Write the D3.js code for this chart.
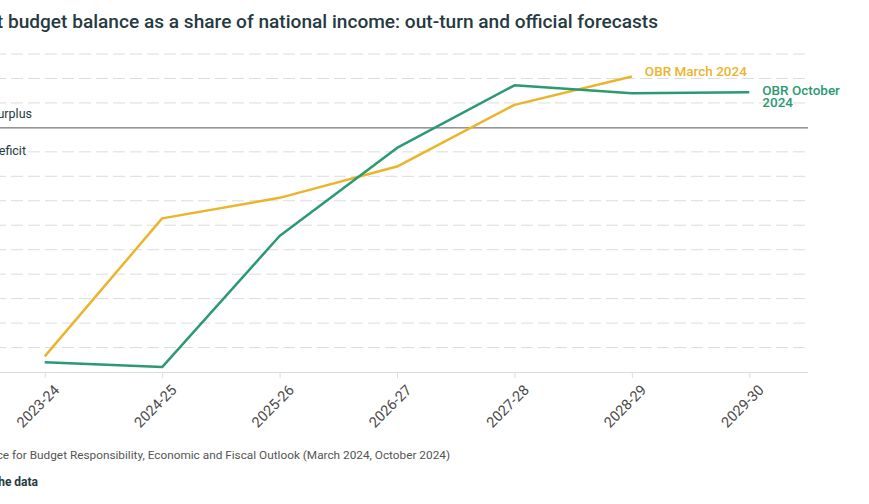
<!DOCTYPE html>
<html>
<head>
<meta charset="utf-8">
<script src="https://cdn.jsdelivr.net/npm/d3@7"></script>
<style>
  body { margin: 0; background: #fff; overflow: hidden; }
  svg { display: block; font-family: Roboto, "Noto Sans", sans-serif; }
</style>
</head>
<body>
<div id="chart"></div>
<script>
// years on the x axis
const years = ["2023-24", "2024-25", "2025-26", "2026-27", "2027-28", "2028-29", "2029-30"];
// current budget balance, % of national income
const obrMarch = [-2.34, -0.93, -0.72, -0.40, 0.23, 0.52, null];
const obrOctober = [-2.40, -2.45, -1.11, -0.21, 0.43, 0.35, 0.36];
const yTicks = [-2.5, -2.25, -2, -1.75, -1.5, -1.25, -1, -0.75, -0.5, -0.25, 0, 0.25, 0.5, 0.75];

const W = 869, H = 504;
const GREEN = "#2b9a73", YELLOW = "#eab52c", INK = "#263a3f";

const svg = d3.select("#chart").append("svg")
    .attr("width", W)
    .attr("height", H);

// plot area runs off the left edge, like the reference
const plot = { left: -14, right: 808, top: 54, bottom: 372 };

const x = d3.scalePoint()
    .domain(years)
    .range([plot.left, plot.right])
    .padding(0.5);

const y = d3.scaleLinear()
    .domain([-2.5, 0.75])
    .range([plot.bottom, plot.top]);

// title
svg.append("text")
    .attr("x", 658).attr("y", 28)
    .attr("text-anchor", "end")
    .attr("font-size", 19.1)
    .attr("font-weight", 500)
    .attr("fill", INK)
    .text("Current budget balance as a share of national income: out-turn and official forecasts");

// gridlines
svg.append("g")
    .selectAll("line")
    .data(yTicks.filter(d => d !== 0 && d !== -2.5))
    .join("line")
    .attr("x1", plot.left - 60).attr("x2", plot.right)
    .attr("y1", d => y(d)).attr("y2", d => y(d))
    .attr("stroke", "#dcdcdc")
    .attr("stroke-dasharray", "12,5");

// x axis
const xAxis = svg.append("g")
    .attr("transform", `translate(0,${plot.bottom})`)
    .call(d3.axisBottom(x).tickSize(6).tickSizeOuter(0));
xAxis.attr("font-family", null).attr("font-size", null);
xAxis.select(".domain")
    .attr("d", `M${plot.left - 60},0.5H${plot.right}`)
    .attr("stroke", "#dcdcdc");
xAxis.selectAll(".tick line").attr("stroke", "#dcdcdc");
xAxis.selectAll(".tick text")
    .style("font-size", "14.5px")
    .attr("fill", "#4a4a4a")
    .attr("text-anchor", "end")
    .attr("dx", "0")
    .attr("dy", "0.45em")
    .attr("transform", "translate(4,8) rotate(-45)");

// zero line
svg.append("line")
    .attr("x1", plot.left - 60).attr("x2", plot.right)
    .attr("y1", y(0) + 0.5).attr("y2", y(0) + 0.5)
    .attr("stroke", "#555");

svg.append("text")
    .attr("x", 32).attr("y", 118)
    .attr("text-anchor", "end")
    .attr("font-size", 12.5)
    .attr("fill", INK)
    .text("Surplus");
svg.append("text")
    .attr("x", 26).attr("y", 155)
    .attr("text-anchor", "end")
    .attr("font-size", 12.5)
    .attr("fill", INK)
    .text("Deficit");

// lines
const line = d3.line()
    .defined(d => d.v !== null)
    .x(d => x(d.year))
    .y(d => y(d.v));

const series = [
    { name: "OBR March 2024", values: obrMarch, color: YELLOW },
    { name: "OBR October 2024", values: obrOctober, color: GREEN }
];

svg.append("g")
    .selectAll("path")
    .data(series)
    .join("path")
    .attr("fill", "none")
    .attr("stroke", d => d.color)
    .attr("stroke-width", 2.5)
    .attr("stroke-linejoin", "round")
    .attr("d", d => line(years.map((yr, i) => ({ year: yr, v: d.values[i] }))));

// direct labels
svg.append("text")
    .attr("x", x("2028-29") + 13).attr("y", 76)
    .attr("font-size", 13.5)
    .attr("font-weight", 500)
    .attr("fill", YELLOW)
    .text("OBR March 2024");

const octLabel = svg.append("text")
    .attr("x", x("2029-30") + 13).attr("y", 95)
    .attr("font-size", 13.5)
    .attr("font-weight", 500)
    .attr("fill", GREEN);
octLabel.append("tspan").text("OBR October");
octLabel.append("tspan").attr("x", x("2029-30") + 13).attr("dy", 12).text("2024");

// footer
svg.append("text")
    .attr("x", 450).attr("y", 459)
    .attr("text-anchor", "end")
    .attr("font-size", 11.8)
    .attr("fill", "#555")
    .text("Source: Office for Budget Responsibility, Economic and Fiscal Outlook (March 2024, October 2024)");
svg.append("text")
    .attr("x", 38).attr("y", 486)
    .attr("text-anchor", "end")
    .attr("font-size", 12)
    .attr("font-weight", 700)
    .attr("fill", INK)
    .text("Get the data");
</script>
</body>
</html>
